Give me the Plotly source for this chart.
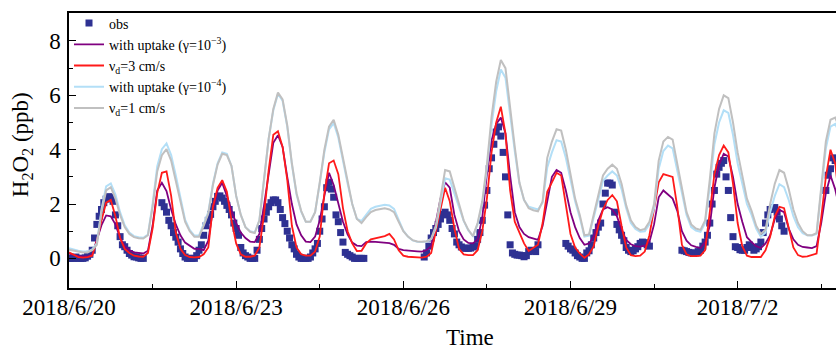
import pandas as pd
import plotly.graph_objects as go

N = None
# ---------------- data ----------------
tick_dates = ["2018-06-20", "2018-06-23", "2018-06-26", "2018-06-29", "2018-07-02"]
tick_labels = ["2018/6/20", "2018/6/23", "2018/6/26", "2018/6/29", "2018/7/2"]
minor_dates = ["2018-06-21 12:00", "2018-06-24 12:00", "2018-06-27 12:00",
               "2018-06-30 12:00", "2018-07-03 12:00"]

# observations, hourly from 2018-06-20 00:00 (None = missing)
obs = [
    0, 0, 0, .05, 0, 0, 0, .02, .08, .15, .3, .75, 1.25, 1.55, 1.8, 2.05, 2.18, 2.27, 2.25, 2.1, 1.6, 1.2, .8, .5,
    .43, .3, .18, .12, .06, .05, .02, 0, 0, N, N, N, N, N, N, N, 2.05, 1.9, 1.7, 1.4, 1.2, .95, .78, .6,
    .35, .18, .05, 0, 0, 0, 0, .1, .3, .5, .85, 1.2, 1.4, 1.62, 1.9, 2.1, 2.28, 2.3, 2.22, 2.1, 1.95, 1.8, 1.6, 1.3,
    1.1, .85, .4, .2, .1, .05, 0, 0, 0, .3, .7, 1.1, 1.45, 1.7, 1.9, 2.05, 2.15, 2.15, 2.05, 1.8, 1.5, 1.28, 1.0, .75,
    .5, .35, .15, .05, 0, 0, 0, 0, .05, .2, .35, .55, 1.0, 1.45, 1.9, 2.6, 2.8, 2.55, 2.25, 1.6, 1.35, .95, .6, .22,
    .15, .1, .05, 0, 0, 0, 0, 0, N, N, N, N, N, N, N, N, N, N, N, N, N, N, N, N,
    N, N, N, N, N, N, N, N, N, .05, .2, .45, .75, .95, 1.1, 1.25, 1.45, 1.62, 1.7, 1.6, 1.4, 1.1, .9, .6,
    .5, .42, .38, .37, .37, .38, .42, .45, .7, .95, 1.4, 1.96, 2.5, 3.3, 3.7, 4.2, 4.65, 4.84, 4.5, 3.9, 3.0, 1.6, .5, .2,
    .15, .12, .12, .1, .06, .1, .25, .3, .28, .25, .5, N, N, N, N, N, N, N, N, N, N, N, .55, .45,
    .35, .3, .2, .1, .05, 0, 0, .2, .28, .5, .75, .95, 1.15, 1.3, 2.0, 2.4, 2.77, 2.77, 2.7, 1.7, 1.25, 1.05, .85, .65,
    .4, .3, .25, .28, .35, .43, .55, .6, .58, .5, .45, N, N, N, N, N, N, N, N, N, N, N, N, N,
    .3, .28, .25, .22, .2, .18, .2, .25, .3, .45, .6, .85, 1.3, 2.0, 2.5, 3.1, 3.35, 3.5, 3.6, 3.0, 2.5, 1.5, .8, .43,
    .4, .32, .3, .3, .4, .5, .4, .3, .35, .43, .6, .95, 1.3, 1.6, 1.8, 1.85, 1.87, 1.7, 1.45, 1.2, 1.0, N, N, N,
    N, N, N, N, N, N, N, N, N, N, N, N, N, N, 2.5, 3.06, 3.3, 3.7, 3.6, N, N, N, N, N,
]

# model runs, every 2 hours from 2018-06-20 00:00
uptake_3 = [
    .18, .12, .08, .06, .07, .15, .65, 1.22, 1.58, 1.55, 1.25, .75,
    .45, .3, .22, .19, .18, .28, 1.2, 2.5, 2.78, 2.48, 1.8, 1.25,
    .85, .58, .45, .35, .35, .3, .65, 1.8, 2.5, 2.78, 2.3, 1.75,
    1.3, .95, .75, .62, .6, .9, 1.95, 3.2, 4.25, 4.53, 4.1, 3.0,
    2.0, 1.25, .85, .62, .6, .8, 1.4, 2.3, 3.15, 2.7, 2.05, 1.35,
    .88, .58, .47, .45, .6, .62, .61, .6, .58, .56, .5, .35,
    .3, .28, .27, .26, .25, .3, .45, 1.3, 2.2, 2.8, 2.6, 1.6,
    1.0, .7, .57, .55, .7, 1.5, 3.1, 4.35, 4.95, 5.18, 4.6, 3.05,
    1.7, 1.15, .9, .78, .73, .68, 1.2, 2.1, 3.0, 3.25, 3.15, 2.5,
    1.7, 1.15, .75, .5, .55, .8, 1.4, 1.8, 1.88, 1.8, 1.55, 1.05,
    .68, .52, .45, .43, .47, .6, 1.25, 2.25, 2.5, 2.35, 2.2, 1.75,
    1.0, .65, .48, .42, .38, .6, 1.2, 2.6, 3.45, 3.85, 3.75, 3.0,
    2.0, 1.35, .78, .6, .45, .38, .55, .85, 1.45, 1.78, 1.7, 1.1,
    .7, .5, .42, .4, .38, .45, 1.3, 2.4, 3.05, 2.55, 1.8, 1.2,
]
vd_3 = [
    .22, .12, .05, .03, .05, .1, .65, 1.4, 2.05, 2.15, 1.55, .75,
    .35, .2, .1, .07, .06, .2, 1.1, 2.4, 3.15, 3.2, 2.3, .95,
    .35, .12, .05, .04, .05, .15, .4, 1.9, 2.6, 2.88, 2.45, 1.4,
    .55, .15, .06, .06, .1, .4, 1.6, 3.25, 4.55, 4.68, 4.1, 2.9,
    1.2, .4, .15, .1, .1, .25, .8, 2.4, 3.5, 3.6, 3.1, 1.85,
    1.0, .55, .27, .28, .55, .7, .74, .78, .82, .9, .7, .3,
    .1, .06, .05, .04, .03, .06, .2, 1.0, 1.75, 2.6, 2.1, 1.1,
    .35, .15, .12, .12, .3, 1.0, 2.2, 3.9, 5.0, 5.58, 4.6, 2.5,
    1.35, .95, .55, .27, .38, .5, 1.3, 2.45, 2.8, 3.15, 3.05, 2.0,
    .9, .4, .18, .02, .15, .45, 1.2, 1.8, 2.15, 2.33, 2.1, 1.2,
    .4, .12, .08, .1, .25, .85, 1.9, 2.8, 3.1, 3.05, 3.0, 1.9,
    .5, .15, .08, .08, .1, .3, 1.6, 3.1, 3.8, 4.15, 3.9, 2.75,
    1.3, .45, .1, .05, .05, .05, .3, .8, 1.55, 1.9, 1.85, 1.1,
    .4, .12, .06, .07, .12, .18, 1.5, 3.0, 4.0, 3.5, 2.0, .8,
]
uptake_4 = [
    .37, .32, .28, .25, .25, .33, .55, 1.8, 2.65, 2.76, 2.35, 1.7,
    1.22, .95, .82, .78, .76, .88, 2.0, 3.38, 4.02, 4.23, 3.8, 3.05,
    2.2, 1.42, 1.05, .84, .84, 1.25, 1.7, 2.75, 3.5, 3.9, 3.85, 3.4,
    2.3, 1.6, 1.15, 1.0, .95, 1.4, 3.0, 4.4, 5.45, 6.05, 5.8, 4.85,
    3.45, 2.35, 1.72, 1.35, 1.36, 1.7, 2.75, 3.9, 4.75, 4.98, 4.45, 3.55,
    2.75, 2.0, 1.45, 1.38, 1.62, 1.82, 1.9, 1.94, 1.97, 1.95, 1.82, 1.42,
    1.02, .8, .66, .61, .6, .62, .7, 1.12, 2.1, 2.95, 2.9, 2.4,
    1.92, 1.38, 1.03, .82, 1.25, 2.0, 3.3, 4.9, 6.15, 6.95, 6.65, 5.25,
    3.95, 2.75, 2.15, 1.9, 1.84, 1.8, 2.05, 3.35, 3.9, 4.35, 4.3, 3.7,
    2.9, 2.1, 1.5, .8, .84, 1.5, 2.25, 2.85, 3.05, 3.2, 3.05, 2.55,
    1.85, 1.3, 1.08, .98, 1.0, 1.25, 1.85, 3.3, 3.95, 4.15, 4.05, 3.25,
    2.35, 1.6, 1.15, 1.02, .98, 1.3, 2.65, 4.2, 5.0, 5.45, 5.35, 4.55,
    3.5, 2.7, 2.0, 1.6, 1.1, .8, .95, 1.7, 2.3, 2.73, 2.62, 2.15,
    1.55, 1.15, .93, .85, .84, .9, 2.45, 4.05, 4.85, 4.95, 4.6, 3.75,
]
vd_1 = [
    .32, .28, .25, .22, .22, .3, .5, 1.7, 2.5, 2.62, 2.2, 1.6,
    1.15, .9, .78, .74, .73, .85, 1.9, 3.2, 3.8, 4.02, 3.6, 2.9,
    2.1, 1.35, 1.0, .8, .8, 1.2, 1.65, 2.7, 3.45, 3.85, 3.8, 3.4,
    2.3, 1.6, 1.15, .98, .93, 1.4, 3.0, 4.4, 5.5, 6.1, 5.85, 4.9,
    3.5, 2.4, 1.75, 1.35, 1.35, 1.7, 2.8, 4.0, 4.85, 5.1, 4.55, 3.65,
    2.8, 2.0, 1.45, 1.3, 1.52, 1.7, 1.78, 1.82, 1.84, 1.8, 1.7, 1.35,
    1.0, .8, .67, .62, .61, .63, .72, 1.2, 2.3, 3.25, 3.2, 2.6,
    2.0, 1.4, 1.05, .82, 1.3, 2.1, 3.45, 5.2, 6.5, 7.3, 7.0, 5.5,
    4.1, 2.8, 2.15, 1.85, 1.77, 1.73, 2.1, 3.7, 4.3, 4.75, 4.7, 4.0,
    3.1, 2.2, 1.6, .85, .88, 1.6, 2.4, 3.05, 3.3, 3.45, 3.3, 2.75,
    1.95, 1.4, 1.15, 1.04, 1.08, 1.35, 2.0, 3.6, 4.3, 4.47, 4.37, 3.5,
    2.5, 1.7, 1.25, 1.1, 1.05, 1.4, 2.9, 4.6, 5.5, 6.0, 5.9, 5.0,
    3.9, 3.0, 2.2, 1.75, 1.2, .9, 1.05, 2.0, 2.75, 3.25, 3.15, 2.55,
    1.8, 1.3, 1.0, .85, .85, .93, 2.6, 4.3, 5.1, 5.18, 4.8, 3.9,
]

t_obs = pd.date_range("2018-06-20", periods=len(obs), freq="h")
t_mod = pd.date_range("2018-06-20", periods=len(vd_1), freq="2h")

FONT = "Liberation Serif"

fig = go.Figure()
fig.add_trace(go.Scatter(x=t_obs, y=obs, mode="markers", name="obs",
                         marker=dict(symbol="square", size=7, color="#2E3192", line=dict(width=0))))
fig.add_trace(go.Scatter(x=t_mod, y=uptake_3, mode="lines", name="with uptake (γ=10<sup>−3</sup>)",
                         line=dict(color="#800080", width=1.8)))
fig.add_trace(go.Scatter(x=t_mod, y=vd_3, mode="lines", name="ν<sub>d</sub>=3 cm/s",
                         line=dict(color="#FF1A1A", width=1.8)))
fig.add_trace(go.Scatter(x=t_mod, y=uptake_4, mode="lines", name="with uptake (γ=10<sup>−4</sup>)",
                         line=dict(color="#B3DFF7", width=2)))
fig.add_trace(go.Scatter(x=t_mod, y=vd_1, mode="lines", name="ν<sub>d</sub>=1 cm/s",
                         line=dict(color="#C0C0C0", width=2)))

fig.update_layout(
    width=836, height=351,
    margin=dict(l=69, r=0, t=13, b=63, autoexpand=False),
    paper_bgcolor="white", plot_bgcolor="white",
    font=dict(family=FONT, color="black", size=23),
    legend=dict(x=0.0, y=1.02, xanchor="left", yanchor="top",
                bgcolor="rgba(0,0,0,0)", font=dict(family=FONT, size=14, color="black"),
                itemwidth=30, tracegroupgap=0),
    xaxis=dict(
        type="date", automargin=False,
        range=["2018-06-20 00:00", "2018-07-03 18:22"],
        showline=True, linecolor="black", linewidth=1.5, mirror=True,
        ticks="inside", ticklen=7, tickwidth=1.3, tickcolor="black",
        tickmode="array", tickvals=tick_dates, ticktext=tick_labels,
        tickfont=dict(family=FONT, size=23, color="black"),
        ticklabelstandoff=-2,
        minor=dict(ticks="inside", ticklen=4, tickwidth=1.3, tickcolor="black",
                   tickmode="array", tickvals=minor_dates, showgrid=False),
        showgrid=False, zeroline=False,
    ),
    yaxis=dict(
        automargin=False,
        range=[-1.09, 9.03],
        showline=True, linecolor="black", linewidth=1.5, mirror=False,
        ticks="inside", ticklen=7, tickwidth=1.3, tickcolor="black",
        tickmode="array", tickvals=[0, 2, 4, 6, 8],
        tickfont=dict(family=FONT, size=23, color="black"),
        ticklabelstandoff=2,
        minor=dict(ticks="inside", ticklen=4, tickwidth=1.3, tickcolor="black",
                   tickmode="array", tickvals=[1, 3, 5, 7], showgrid=False),
        showgrid=False, zeroline=False,
    ),
    annotations=[
        dict(text="Time", xref="paper", yref="paper", x=0.523, y=-0.229,
             xanchor="center", yanchor="bottom", showarrow=False, borderpad=0,
             font=dict(family=FONT, size=23, color="black")),
        dict(text="H<sub>2</sub>O<sub>2</sub> (ppb)", xref="paper", yref="paper",
             x=-0.061, y=0.52, xanchor="center", yanchor="middle", textangle=-90,
             showarrow=False, font=dict(family=FONT, size=23, color="black")),
    ],
)

# remove the default page margin so the 836x351 figure fills the window exactly
fig.write_html("out.html",
               config={"displayModeBar": False},
               post_script="document.body.style.margin='0';"
                           "document.documentElement.style.overflow='hidden';")
